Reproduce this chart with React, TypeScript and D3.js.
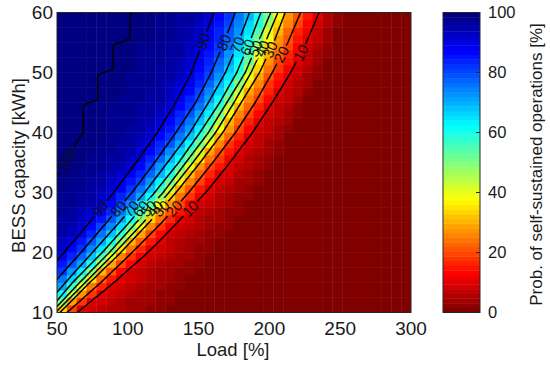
import * as d3 from "d3";
import { useMemo } from "react";

const W = 550;
const H = 366;
const plot = { left: 57, right: 411, top: 12.5, bottom: 312.5 };
const cbar = { left: 443, right: 480 };
const font = "'Liberation Sans', Arial, Helvetica, sans-serif";

// capacity rows [kWh] at which the contour crossings were read
const capacityRows = [10, 15, 20, 25, 30, 35, 40, 45, 50, 55, 60];
// load [%] where the probability falls to each level, per capacity row
const load96 = [11, 24, 41, 59, 76, 92, 107, 120, 131, 139, 147];
const load90 = [25, 38, 55, 73, 90, 106, 121, 134, 145, 153, 161];
const load80 = [33, 48, 67, 85, 103, 119, 134, 148, 159, 168, 176];
const load70 = [38, 56, 75, 94, 112, 128, 144, 157, 169, 178, 186];
const load60 = [43, 61, 82, 101, 119, 136, 151, 165, 177, 186, 194];
const load50 = [46, 66, 87, 106, 125, 141, 157, 170, 183, 192, 201];
const load40 = [49, 70, 91, 111, 129, 146, 162, 175, 187, 197, 206];
const load30 = [52, 73, 95, 115, 134, 151, 167, 180, 193, 203, 211];
const load20 = [57, 81, 103, 124, 143, 160, 176, 190, 202, 213, 222];
const load10 = [64, 90, 114, 135, 155, 172, 188, 202, 215, 226, 235];
const load5 = [90, 112, 133, 152, 170, 187, 202, 215, 227, 237, 244];
const load0 = [140, 155, 170, 184, 197, 209, 220, 230, 240, 248, 256];
// the stepped 100 % boundary
const full100Cap = [10, 28, 33, 35.5, 37.9, 40, 44.6, 45.4, 49.6, 50.5, 54.6, 55.5, 59.7, 60.5, 62];
const full100Load = [-30, 30, 50, 57, 62, 68, 68, 78, 78, 89, 89, 101, 101, 108, 110];

const levels = [90, 80, 70, 60, 50, 40, 30, 20, 10];
const levelLoads = [load90, load80, load70, load60, load50, load40, load30, load20, load10];
// capacity where each label sits (lower and upper label rows)
const labelCapLow = [27.3, 27.3, 27.3, 27.3, 27.3, 27.3, 27.3, 27.3, 27.3];
const labelCapHigh = [55.2, 55.0, 54.6, 54.2, 54.0, 54.0, 53.8, 53.0, 53.3];
const label100Cap = 35.5;

const xTicks = [50, 100, 150, 200, 250, 300];
const yTicks = [10, 20, 30, 40, 50, 60];
const cTicks = [0, 20, 40, 60, 80, 100];

const nCols = 36;
const nRows = 40;

function jet(v: number) {
  const c = (x: number) => Math.max(0, Math.min(1, x));
  return d3
    .rgb(255 * c(1.5 - Math.abs(4 * v - 3)), 255 * c(1.5 - Math.abs(4 * v - 2)), 255 * c(1.5 - Math.abs(4 * v - 1)))
    .formatHex();
}
const colorOf = (p: number) => {
  const k = Math.min(63, Math.max(0, Math.floor((1 - p / 100) * 64)));
  return jet(k / 63);
};

const crossScales = [
  d3.scaleLinear().domain(full100Cap).range(full100Load),
  d3.scaleLinear().domain(capacityRows).range(load96),
  ...levelLoads.map((arr) => d3.scaleLinear().domain(capacityRows).range(arr)),
  d3.scaleLinear().domain(capacityRows).range(load5),
  d3.scaleLinear().domain(capacityRows).range(load0),
];
const allLevels = [100, 96, ...levels, 5, 0];

function prob(L: number, C: number) {
  const loads = crossScales.map((s) => s(C));
  if (L <= loads[0]) return 100;
  for (let k = 1; k < loads.length; k++) {
    if (L <= loads[k]) {
      const t = (L - loads[k - 1]) / (loads[k] - loads[k - 1]);
      return allLevels[k - 1] + t * (allLevels[k] - allLevels[k - 1]);
    }
  }
  return 0;
}

export default function App() {
  const x = d3.scaleLinear().domain([50, 300]).range([plot.left, plot.right]);
  const y = d3.scaleLinear().domain([10, 60]).range([plot.bottom, plot.top]);
  const yc = d3.scaleLinear().domain([0, 100]).range([plot.bottom, plot.top]);

  const cells = useMemo(() => {
    const out: { L0: number; C0: number; L1: number; C1: number; fill: string }[] = [];
    const dL = 250 / nCols;
    const dC = 50 / nRows;
    for (let j = 0; j < nRows; j++) {
      for (let i = 0; i < nCols; i++) {
        const L0 = 50 + i * dL;
        const C0 = 10 + j * dC;
        out.push({ L0, C0, L1: L0 + dL, C1: C0 + dC, fill: colorOf(prob(L0 + dL / 2, C0 + dC / 2)) });
      }
    }
    return out;
  }, []);

  const contourPaths = useMemo(() => {
    const L0 = 44, stepL = 1, nx = 262;
    const C0 = 8, stepC = 0.25, ny = 217;
    const values = new Array(nx * ny);
    for (let j = 0; j < ny; j++)
      for (let i = 0; i < nx; i++) values[j * nx + i] = prob(L0 + i * stepL, C0 + j * stepC);
    const gen = d3.contours().size([nx, ny]).thresholds([99.95, ...levels]);
    const proj = d3.geoTransform({
      point(gx: number, gy: number) {
        this.stream.point(x(L0 + (gx - 0.5) * stepL), y(C0 + (gy - 0.5) * stepC));
      },
    });
    const path = d3.geoPath(proj);
    return gen(values).map((c) => path(c as any) || "");
  }, []);

  const labels = useMemo(() => {
    const out: { text: string; px: number; py: number; angle: number }[] = [];
    const add = (text: string, s: d3.ScaleLinear<number, number>, C: number) => {
      const p1 = [x(s(C - 0.5)), y(C - 0.5)];
      const p2 = [x(s(C + 0.5)), y(C + 0.5)];
      const angle = (Math.atan2(p2[1] - p1[1], p2[0] - p1[0]) * 180) / Math.PI;
      out.push({ text, px: x(s(C)), py: y(C), angle });
    };
    add("100", crossScales[0], label100Cap);
    levels.forEach((lv, k) => {
      add(String(lv), crossScales[k + 2], labelCapLow[k]);
      add(String(lv), crossScales[k + 2], labelCapHigh[k]);
    });
    return out;
  }, []);

  const bands = d3.range(64);

  return (
    <svg width={W} height={H} style={{ position: "absolute", left: 0, top: 0, background: "#fff" }} fontFamily={font}>
      <defs>
        <clipPath id="plotClip">
          <rect x={plot.left} y={plot.top} width={plot.right - plot.left} height={plot.bottom - plot.top} />
        </clipPath>
        <mask id="labelMask" maskUnits="userSpaceOnUse" x={0} y={0} width={W} height={H}>
          <rect x={0} y={0} width={W} height={H} fill="#fff" />
          {labels.map((l, i) => (
            <rect
              key={i}
              x={-l.text.length * 4.3 - 1.5}
              y={-6}
              width={l.text.length * 8.6 + 3}
              height={12}
              fill="#000"
              transform={`translate(${l.px},${l.py}) rotate(${l.angle})`}
            />
          ))}
        </mask>
      </defs>

      <g clipPath="url(#plotClip)">
        {cells.map((c, i) => (
          <rect
            key={i}
            x={x(c.L0)}
            y={y(c.C1)}
            width={x(c.L1) - x(c.L0) + 0.4}
            height={y(c.C0) - y(c.C1) + 0.4}
            fill={c.fill}
          />
        ))}
        <g mask="url(#labelMask)">
          {contourPaths.map((d, i) => (
            <path key={i} d={d} fill="none" stroke="#000" strokeWidth={1.5} strokeLinejoin="round" />
          ))}
        </g>
        {labels.map((l, i) => (
          <text
            key={i}
            transform={`translate(${l.px},${l.py}) rotate(${l.angle})`}
            textAnchor="middle"
            dy="0.35em"
            fontSize={14.5}
            fill="#111"
          >
            {l.text}
          </text>
        ))}
      </g>
      <rect
        x={plot.left}
        y={plot.top}
        width={plot.right - plot.left}
        height={plot.bottom - plot.top}
        fill="none"
        stroke="#262626"
        strokeWidth={1}
      />

      {xTicks.map((t) => (
        <text key={t} x={x(t)} y={335} textAnchor="middle" fontSize={19} fill="#1a1a1a">
          {t}
        </text>
      ))}
      {yTicks.map((t) => (
        <text key={t} x={53} y={y(t)} dy="0.36em" textAnchor="end" fontSize={19} fill="#1a1a1a">
          {t}
        </text>
      ))}
      <text x={(plot.left + plot.right) / 2 - 1} y={356} textAnchor="middle" fontSize={18.5} fill="#1a1a1a">
        Load [%]
      </text>
      <text
        transform={`translate(25,${(plot.top + plot.bottom) / 2 + 3}) rotate(-90)`}
        textAnchor="middle"
        fontSize={18.5}
        fill="#1a1a1a"
      >
        BESS capacity [kWh]
      </text>

      {bands.map((k) => (
        <rect
          key={k}
          x={cbar.left}
          y={yc(((k + 1) / 64) * 100)}
          width={cbar.right - cbar.left}
          height={yc(0) - yc(100 / 64) + 0.4}
          fill={colorOf(((k + 0.5) / 64) * 100)}
        />
      ))}
      <rect
        x={cbar.left}
        y={plot.top}
        width={cbar.right - cbar.left}
        height={plot.bottom - plot.top}
        fill="none"
        stroke="#262626"
        strokeWidth={1}
      />
      {cTicks.map((t) => (
        <g key={t}>
          <line x1={cbar.right} x2={cbar.right - 4} y1={yc(t)} y2={yc(t)} stroke="#262626" />
          <text x={488} y={yc(t)} dy="0.36em" fontSize={16.5} fill="#1a1a1a">
            {t}
          </text>
        </g>
      ))}
      <text
        transform={`translate(542,${(plot.top + plot.bottom) / 2 + 2}) rotate(-90)`}
        textAnchor="middle"
        fontSize={17}
        fill="#1a1a1a"
      >
        Prob. of self-sustained operations [%]
      </text>
    </svg>
  );
}
